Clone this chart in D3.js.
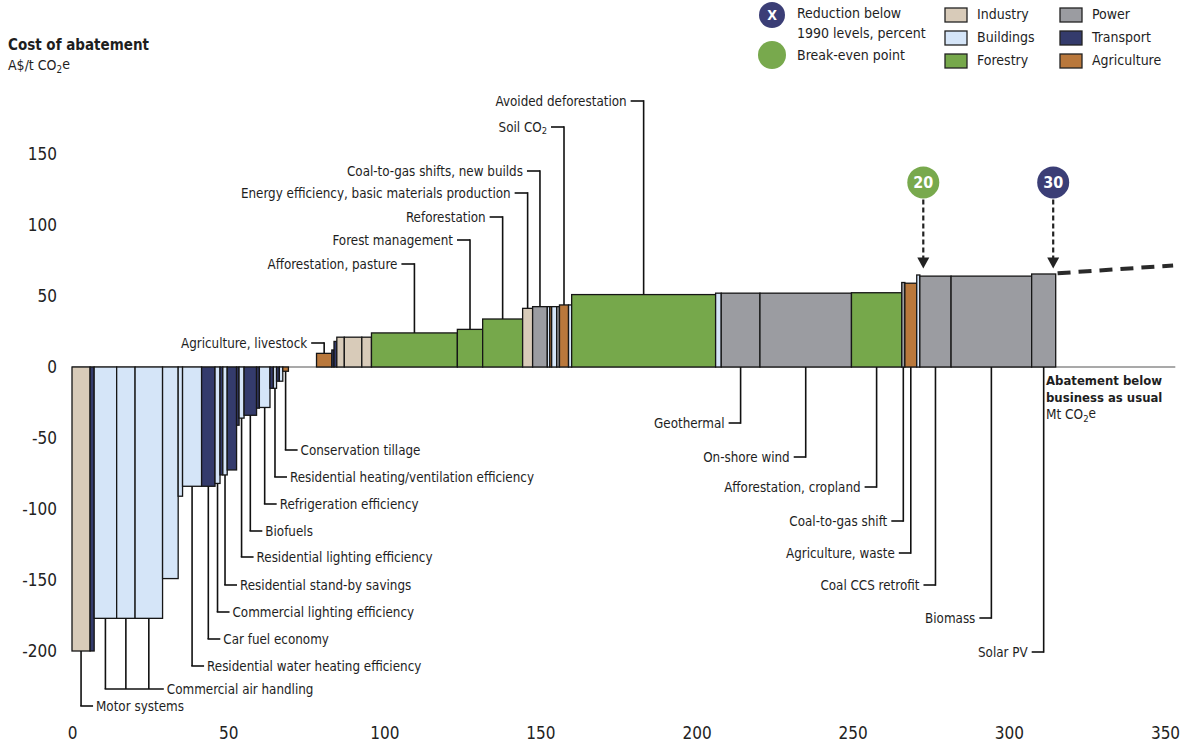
<!DOCTYPE html>
<html><head><meta charset="utf-8">
<script src="https://cdn.jsdelivr.net/npm/d3@7"></script>
<style>
body{margin:0;background:#fff;}
svg text{font-family:"Liberation Sans Narrow","Arial Narrow","DejaVu Sans Condensed",sans-serif;fill:#1e1e1e;}
</style></head><body>
<svg id="chart" width="1197" height="747"></svg>
<script>
// ---------- DATA ----------
const labels = [
 "Motor systems","","Commercial air handling","Commercial air handling","Commercial air handling","","",
 "Residential water heating efficiency","Car fuel economy","Commercial lighting efficiency","",
 "Residential stand-by savings","","","Residential lighting efficiency","Biofuels","",
 "Refrigeration efficiency","","Residential heating/ventilation efficiency","","","Conservation tillage",
 "",
 "Agriculture, livestock","","","","","","Afforestation, pasture","Forest management","Reforestation",
 "Energy efficiency, basic materials production","Coal-to-gas shifts, new builds","","","","",
 "Soil CO2","","Avoided deforestation","","Geothermal","On-shore wind","Afforestation, cropland",
 "Coal-to-gas shift","Agriculture, waste","","Coal CCS retrofit","Biomass","Solar PV"
];
const sectors = [
 "Industry","Transport","Buildings","Buildings","Buildings","Buildings","Buildings",
 "Buildings","Transport","Buildings","Transport",
 "Buildings","Transport","Transport","Buildings","Transport","Transport",
 "Buildings","Transport","Buildings","Transport","Buildings","Agriculture",
 null,
 "Agriculture","Transport","Transport","Industry","Industry","Industry","Forestry","Forestry","Forestry",
 "Industry","Power","Buildings","Agriculture","Buildings","Power",
 "Agriculture","Buildings","Forestry","Buildings","Power","Power","Forestry",
 "Power","Agriculture","Buildings","Power","Power","Power"
];
// abatement width of each lever, Mt CO2e
const widths = [
 5.8,1.3,7.2,5.9,8.8,5.0,1.4,
 6.1,4.3,1.6,0.9,
 1.4,3.0,0.8,1.6,4.0,0.9,
 3.4,1.1,1.0,0.9,1.1,1.8,
 9.0,
 4.9,0.7,0.9,2.4,5.6,3.1,27.5,8.1,12.8,
 3.2,4.7,0.8,0.6,1.6,0.9,
 2.9,1.0,46.1,1.8,12.4,29.3,16.1,
 1.0,3.8,1.0,10.0,25.8,7.7
];
// cost of abatement, A$/t CO2e
const costs = [
 -200,-200,-177,-177,-177,-149,-91,
 -84,-84,-82,-76,
 -76,-72.5,-41,-36,-34,-29,
 -28.5,-15,-15,-10,-10,-3,
 0,
 9.6,12,18,21,21,21,24,26.5,33.8,
 41.3,42.5,42.5,42.5,42.5,42.5,
 43.7,43.7,51,52,52,52,52.3,
 59.5,59,64.8,64,64,65.5
];
const xTicks = [0,50,100,150,200,250,300,350];
const yTicks = [150,100,50,0,-50,-100,-150,-200];
const sectorNames = ["Industry","Buildings","Forestry","Power","Transport","Agriculture"];
const sectorColors = ["#d8cbb9","#d5e5f8","#76a84b","#9b9ca1","#343b6c","#b9783c"];
// business-as-usual continuation (dashed)
const bauX = [315.6, 352.6];
const bauY = [66, 71.5];
// markers
const markerText = ["20","30"];
const markerX = [272.6, 314.2];
const markerKind = ["Break-even point","Reduction below 1990 levels, percent"];

// ---------- LAYOUT ----------
const svg = d3.select("#chart");
const x = d3.scaleLinear().domain([0,350]).range([72,1165]);
const y = d3.scaleLinear().domain([0,150]).range([367,154]);
const color = d3.scaleOrdinal().domain(sectorNames).range(sectorColors);
const markerColor = d3.scaleOrdinal().domain(["Break-even point","Reduction below 1990 levels, percent"]).range(["#78a94d","#3b3e76"]);
const LFS = 13.3;

// label rows (pixel y) – layout only
const labelRow = {
 "Conservation tillage":450,"Residential heating/ventilation efficiency":477,"Refrigeration efficiency":504,
 "Biofuels":531,"Residential lighting efficiency":557,"Residential stand-by savings":585,
 "Commercial lighting efficiency":612,"Car fuel economy":639,"Residential water heating efficiency":666,
 "Commercial air handling":689,"Motor systems":706,
 "Agriculture, livestock":343,"Afforestation, pasture":264,"Forest management":240,"Reforestation":217,
 "Energy efficiency, basic materials production":193,"Coal-to-gas shifts, new builds":171,
 "Soil CO2":127,"Avoided deforestation":101,
 "Geothermal":423,"On-shore wind":457,"Afforestation, cropland":487,"Coal-to-gas shift":521,
 "Agriculture, waste":553,"Coal CCS retrofit":585,"Biomass":618,"Solar PV":652
};

let acc = 0;
const bars = widths.map((w,i)=>{ const b={start:acc,end:acc+w,cost:costs[i],sector:sectors[i],label:labels[i]}; acc+=w; return b; });

function addLabelText(sel, txt){
  const m = txt.match(/^(.*CO)2(.*)$/);
  if(m){
    sel.append("tspan").text(m[1]);
    sel.append("tspan").attr("font-size","0.7em").attr("dy","0.3em").text("2");
    sel.append("tspan").attr("dy","-0.3em").text(m[2]);
  } else sel.text(txt);
}

// zero line
svg.append("line").attr("x1",x(0)).attr("x2",x(353.3)).attr("y1",y(0)).attr("y2",y(0))
  .attr("stroke","#555").attr("stroke-width",1.2);

// bars
svg.append("g").selectAll("rect").data(bars.filter(b=>b.sector)).join("rect")
  .attr("x",d=>x(d.start)).attr("width",d=>x(d.end)-x(d.start))
  .attr("y",d=>Math.min(y(d.cost),y(0))).attr("height",d=>Math.abs(y(d.cost)-y(0)))
  .attr("fill",d=>color(d.sector)).attr("stroke","#161616").attr("stroke-width",1.3);

// labels & leaders
const lg = svg.append("g");
const groups = d3.groups(bars.filter(b=>b.label), d=>d.label);
groups.forEach(([name, bs])=>{
  const ry = labelRow[name];
  const vxs = bs.map(b=>x((b.start+b.end)/2));
  const b0 = bs[0];
  const mid = (b0.start+b0.end)/2;
  let type;
  if(b0.cost < 0) type = "belowRight";
  else if(mid < 200) type = "above";
  else type = "belowLeft";
  const line = (x1,y1,x2,y2)=>lg.append("line").attr("x1",x1).attr("y1",y1).attr("x2",x2).attr("y2",y2)
      .attr("stroke","#111").attr("stroke-width",1.6);
  if(type==="belowRight"){
    bs.forEach((b,k)=> line(vxs[k], y(b.cost), vxs[k], ry));
    const xmin = d3.min(vxs), xmax = d3.max(vxs);
    const tick = bs.length>1 ? 15 : 12;
    line(xmin-0.8, ry, xmax+tick, ry);
    const t = lg.append("text").attr("x",xmax+tick+3).attr("y",ry).attr("dy","0.35em").attr("font-size",LFS);
    addLabelText(t,name);
  } else if(type==="above"){
    const vx = vxs[0];
    line(vx, ry-0.8, vx, y(b0.cost));
    line(vx-13, ry, vx, ry);
    const t = lg.append("text").attr("x",vx-17).attr("y",ry).attr("dy","0.35em").attr("font-size",LFS).attr("text-anchor","end");
    addLabelText(t,name);
  } else {
    const vx = vxs[0];
    line(vx, y(0), vx, ry+0.8);
    line(vx-12, ry, vx, ry);
    const t = lg.append("text").attr("x",vx-16).attr("y",ry).attr("dy","0.35em").attr("font-size",LFS).attr("text-anchor","end");
    addLabelText(t,name);
  }
});

// BAU dashed continuation
svg.append("line").attr("x1",x(bauX[0])).attr("y1",y(bauY[0])).attr("x2",x(bauX[1])).attr("y2",y(bauY[1]))
  .attr("stroke","#2a2a2a").attr("stroke-width",4).attr("stroke-dasharray","13,8");

// markers
const mg = svg.append("g");
markerX.forEach((mx,i)=>{
  const cx = x(mx), cy = y(130);
  mg.append("line").attr("x1",cx).attr("x2",cx).attr("y1",cy+17).attr("y2",y(70)-9)
    .attr("stroke","#222").attr("stroke-width",2.2).attr("stroke-dasharray","5,3");
  mg.append("path").attr("d",`M${cx-6},${y(70)-10} L${cx+6},${y(70)-10} L${cx},${y(70)+1} Z`).attr("fill","#222");
  mg.append("circle").attr("cx",cx).attr("cy",cy).attr("r",16).attr("fill",markerColor(markerKind[i]));
  mg.append("text").attr("x",cx).attr("y",cy).attr("dy","0.36em").attr("text-anchor","middle")
    .attr("font-size",16).attr("font-weight","bold").style("fill","#fff").text(markerText[i]);
});

// axes
const yAxis = d3.axisLeft(y).tickValues(yTicks).tickSize(0).tickPadding(15).tickFormat(d=>String(d));
const gy = svg.append("g").attr("transform",`translate(${x(0)},0)`).call(yAxis);
gy.select(".domain").remove();
gy.selectAll("text").attr("font-size",17).style("font-family",'"Liberation Sans Narrow","DejaVu Sans Condensed",sans-serif').style("fill","#222");

const xAxis = d3.axisBottom(x).tickValues(xTicks).tickSize(0).tickPadding(8).tickFormat(d=>String(d));
const gx = svg.append("g").attr("transform",`translate(0,719)`).call(xAxis);
gx.select(".domain").remove();
gx.selectAll("text").attr("font-size",17).style("font-family",'"Liberation Sans Narrow","DejaVu Sans Condensed",sans-serif').style("fill","#222");

// axis titles
svg.append("text").attr("x",8).attr("y",45).attr("dy","0.35em").attr("font-size",15).attr("font-weight","bold").text("Cost of abatement");
const yt = svg.append("text").attr("x",8).attr("y",65).attr("dy","0.35em").attr("font-size",14);
yt.append("tspan").text("A$/t CO");
yt.append("tspan").attr("font-size","0.7em").attr("dy","0.3em").text("2");
yt.append("tspan").attr("dy","-0.3em").text("e");

svg.append("text").attr("x",1046).attr("y",380).attr("dy","0.35em").attr("font-size",13).attr("font-weight","bold").text("Abatement below");
svg.append("text").attr("x",1046).attr("y",397).attr("dy","0.35em").attr("font-size",13).attr("font-weight","bold").text("business as usual");
const xt = svg.append("text").attr("x",1046).attr("y",414).attr("dy","0.35em").attr("font-size",13.5);
xt.append("tspan").text("Mt CO");
xt.append("tspan").attr("font-size","0.7em").attr("dy","0.3em").text("2");
xt.append("tspan").attr("dy","-0.3em").text("e");

// legend
const leg = svg.append("g");
leg.append("circle").attr("cx",772).attr("cy",15).attr("r",13).attr("fill",markerColor(markerKind[1]));
leg.append("text").attr("x",772).attr("y",15).attr("dy","0.36em").attr("text-anchor","middle").attr("font-size",14).attr("font-weight","bold").style("fill","#fff").text("X");
leg.append("circle").attr("cx",772).attr("cy",55).attr("r",14).attr("fill",markerColor(markerKind[0]));
leg.append("text").attr("x",797).attr("y",13).attr("dy","0.35em").attr("font-size",14).text("Reduction below");
leg.append("text").attr("x",797).attr("y",33).attr("dy","0.35em").attr("font-size",14).text("1990 levels, percent");
leg.append("text").attr("x",797).attr("y",55).attr("dy","0.35em").attr("font-size",14).text("Break-even point");
sectorNames.forEach((s,i)=>{
  const col = Math.floor(i/3), row = i%3;
  const lx = col===0 ? 945 : 1060, ly = 8 + row*23;
  leg.append("rect").attr("x",lx).attr("y",ly).attr("width",22).attr("height",14)
    .attr("fill",color(s)).attr("stroke","#222").attr("stroke-width",1.3);
  leg.append("text").attr("x",lx+32).attr("y",ly+6).attr("dy","0.35em").attr("font-size",14).text(s);
});
</script>
</body></html>
